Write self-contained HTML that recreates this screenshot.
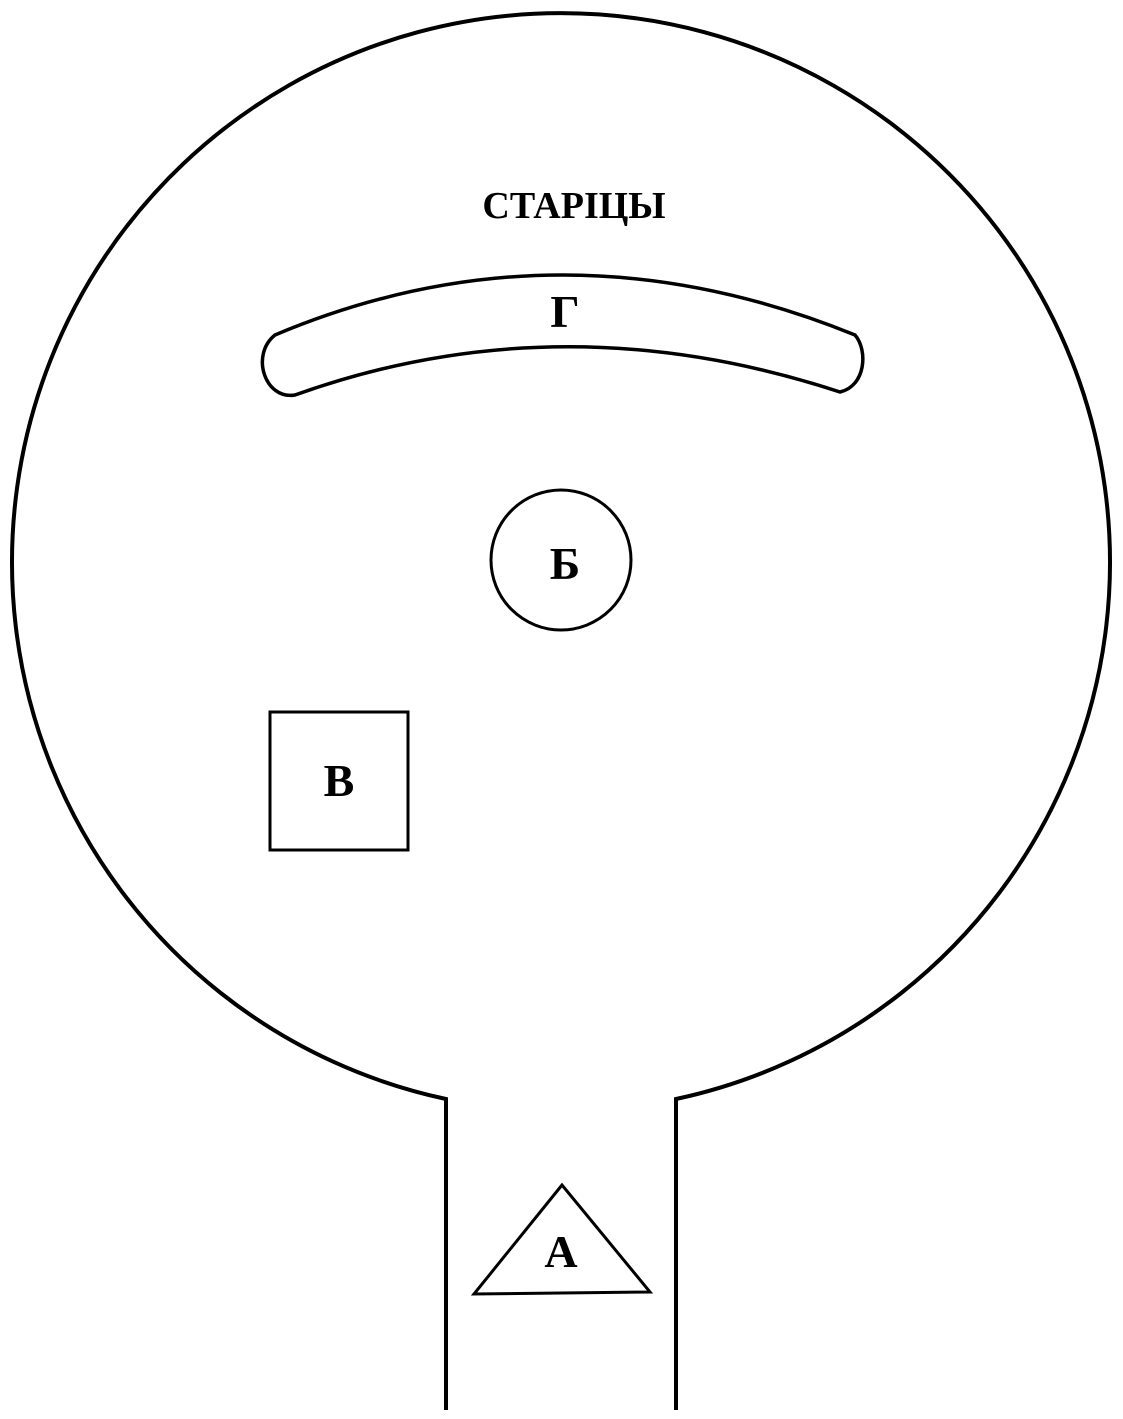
<!DOCTYPE html>
<html><head><meta charset="utf-8"><style>html,body{margin:0;padding:0;background:#fff}svg{display:block}</style></head>
<body>
<svg width="1123" height="1419" viewBox="0 0 1123 1419" xmlns="http://www.w3.org/2000/svg">
<g fill="none" stroke="#000" stroke-width="4">
<path d="M446,1410 L446,1099 A549,549 0 1 1 676,1099 L676,1410"/>
<path d="M275,335 Q560,215 855,335 C868,350 866,386 840,392 Q560,300 295,395 C265,400 250,355 275,335 Z" stroke-width="3.5"/>
<circle cx="561" cy="560" r="70" stroke-width="3"/>
<rect x="270" y="712" width="138" height="138" stroke-width="3"/>
<polygon points="562,1185 474,1294 650,1292" stroke-width="3"/>
</g>
<g font-family="Liberation Serif, serif" font-weight="bold" text-anchor="middle" fill="#000">
<text x="574" y="218" font-size="38">СТАРІЦЫ</text>
<text x="565" y="327" font-size="46">Г</text>
<text x="565" y="579" font-size="46">Б</text>
<text x="339" y="796" font-size="46">В</text>
<text x="561" y="1267" font-size="46">А</text>
</g>
</svg>
</body></html>
